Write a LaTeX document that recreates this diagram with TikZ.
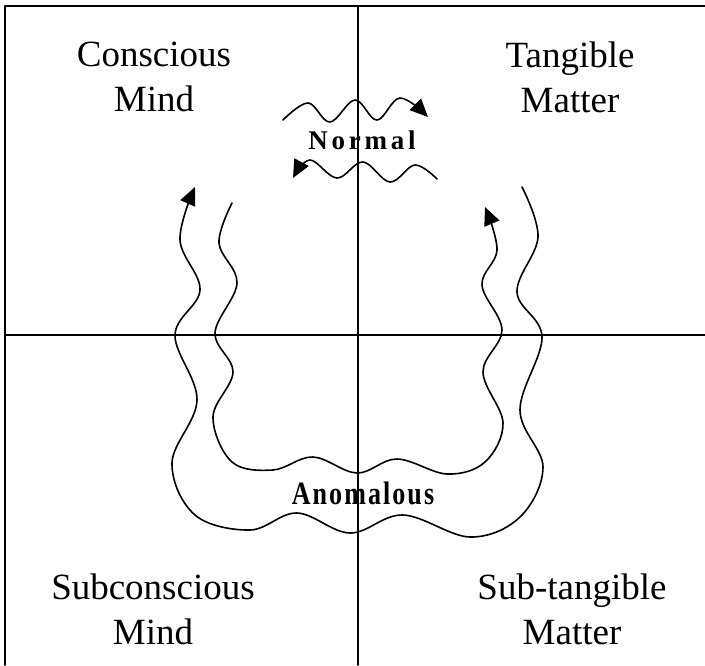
\documentclass[tikz,border=0pt]{standalone}
\usepackage{fontspec}
\usepackage{graphicx}
\setmainfont{Liberation Serif}
\newfontfamily\wavefont{Liberation Serif}
\usetikzlibrary{arrows.meta}

\begin{document}
\begin{tikzpicture}[x=1pt, y=-1pt, line cap=round, line join=round,
    quadline/.style={line width=1.8pt},
    flowline/.style={line width=1.6pt, -{Triangle[length=18pt, width=16pt]}},
    areatext/.style={font=\fontsize{37}{45}\selectfont, align=center, inner sep=0pt},
    flowtext/.style={font=\wavefont\bfseries, inner sep=0pt}]

    \useasboundingbox (0,0) rectangle (705,665);

    % QUADRANT FRAME
    \draw[quadline] (5,665) -- (5,6) -- (705,6);
    \draw[quadline] (358,6) -- (358,665);
    \draw[quadline] (5,335) -- (705,335);

    % QUADRANT LABELS
    \node[areatext] (conscious) at (154,77) {Conscious\\Mind};
    \node[areatext] (tangible) at (570,77) {Tangible\\Matter};
    \node[areatext] (subconscious) at (153,609) {Subconscious\\Mind};
    \node[areatext] (subtangible) at (572,609) {Sub-tangible\\Matter};

    % FLOW LABELS
    \node[flowtext] (normal) at (362,140)
        {\fontsize{27}{27}\selectfont\addfontfeature{LetterSpace=14}Normal};
    \node[flowtext] (anomalous) at (363,493)
        {\scalebox{1}[1.25]{\fontsize{26}{26}\selectfont\addfontfeature{LetterSpace=8}Anomalous}};

    % END POINTS OF THE FLOWS
    \coordinate (nTopStart) at (283,120);
    \coordinate (nTopEnd) at (428,117);
    \coordinate (nLowStart) at (437,179);
    \coordinate (nLowEnd) at (293,178);
    \coordinate (aOutStart) at (522,187);
    \coordinate (aOutEnd) at (195,187);
    \coordinate (aInStart) at (232,203);
    \coordinate (aInEnd) at (485,207);

    % NORMAL FLOW (MIND TO MATTER AND BACK)
    \draw[flowline] plot[smooth, tension=0.6] coordinates
        {(nTopStart) (308,103) (330,122) (355,100) (377,120) (400,98) (nTopEnd)};
    \draw[flowline] plot[smooth, tension=0.6] coordinates
        {(nLowStart) (415,165) (390,182) (363,162) (337,178) (310,160) (nLowEnd)};

    % ANOMALOUS FLOW (THROUGH THE SUB LEVELS)
    \draw[flowline] plot[smooth, tension=0.6] coordinates
        {(aOutStart) (538,237) (517,292) (542,337) (520,410) (543,467) (520,517)
         (470,537) (403,515) (350,533) (297,513) (250,530) (195,515)
         (172,463) (197,400) (175,335) (200,290) (180,240) (aOutEnd)};
    \draw[flowline] plot[smooth, tension=0.6] coordinates
        {(aInStart) (219,243) (237,283) (215,333) (233,372) (213,417) (232,462)
         (273,470) (313,457) (357,473) (397,459) (447,474) (485,462)
         (503,423) (483,372) (502,330) (482,285) (497,250) (aInEnd)};

\end{tikzpicture}
\end{document}
